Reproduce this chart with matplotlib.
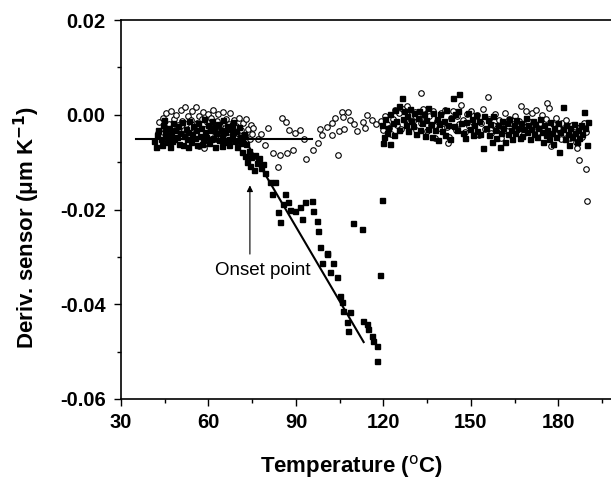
import matplotlib
matplotlib.use("Agg")
import matplotlib.pyplot as plt
from matplotlib.ticker import MultipleLocator, FormatStrFormatter

plt.rcParams['font.family'] = ['Liberation Sans', 'DejaVu Sans']
plt.rcParams['axes.unicode_minus'] = False

# filled squares: (temperature degC, derivative um/K)
sq_pts = [
    (41.3, -0.0055), (41.9, -0.0068), (42.4, -0.0042), (42.8, -0.0031), (43.6, -0.0050), (44.1, -0.0064),
    (44.3, -0.0022), (45.0, -0.0045), (45.2, -0.0035), (45.9, -0.0058), (46.3, -0.0027), (46.8, -0.0067),
    (47.1, -0.0040), (47.7, -0.0018), (48.2, -0.0052), (48.4, -0.0033), (49.1, -0.0046), (49.6, -0.0024),
    (50.0, -0.0061), (50.3, -0.0038), (50.9, -0.0015), (51.2, -0.0063), (51.5, -0.0044), (52.2, -0.0029),
    (52.6, -0.0050), (53.0, -0.0036), (53.4, -0.0012), (53.9, -0.0057), (54.3, -0.0041), (54.6, -0.0023),
    (55.3, -0.0049), (55.8, -0.0032), (56.1, -0.0064), (56.4, -0.0017), (57.0, -0.0044), (57.4, -0.0028),
    (58.0, -0.0054), (58.3, -0.0008), (58.8, -0.0036), (59.3, -0.0047), (59.7, -0.0021), (60.2, -0.0060),
    (60.6, -0.0033), (61.1, -0.0014), (61.4, -0.0048), (62.0, -0.0026), (62.3, -0.0067), (62.7, -0.0039),
    (63.3, -0.0019), (63.6, -0.0053), (64.2, -0.0031), (64.5, -0.0045), (65.0, -0.0011), (65.4, -0.0058),
    (65.8, -0.0037), (66.3, -0.0024), (66.9, -0.0050), (67.2, -0.0063), (67.6, -0.0030), (68.1, -0.0043),
    (68.5, -0.0016), (69.0, -0.0055), (69.4, -0.0035), (69.9, -0.0068), (70.3, -0.0026), (70.7, -0.0047),
    (71.2, -0.0059), (71.6, -0.0079), (72.1, -0.0040), (72.4, -0.0088), (72.9, -0.0062), (73.3, -0.0100),
    (73.8, -0.0076), (74.3, -0.0108), (74.7, -0.0090), (75.5, -0.0117), (76.0, -0.0084), (76.6, -0.0101),
    (77.3, -0.0092), (78.0, -0.0112), (78.6, -0.0104), (44.8, -0.0011), (47.4, -0.0056), (52.9, -0.0068),
    (57.8, -0.0061), (60.9, -0.0052), (64.8, -0.0066), (67.9, -0.0021),
    # descending part
    (79.3, -0.0122), (81.0, -0.0141), (82.7, -0.0141), (81.7, -0.0168), (86.2, -0.0168),
    (85.5, -0.0189), (87.2, -0.0185), (83.8, -0.0206), (84.5, -0.0227), (87.9, -0.0200),
    (89.6, -0.0204), (91.3, -0.0194), (93.0, -0.0185), (95.4, -0.0183), (95.8, -0.0204),
    (92.0, -0.0221), (97.1, -0.0225), (97.5, -0.0246), (98.2, -0.0280), (100.5, -0.0291),
    (100.5, -0.0295), (98.8, -0.0312), (102.6, -0.0312), (101.6, -0.0333), (104.0, -0.0343),
    (105.0, -0.0383), (105.7, -0.0396), (106.0, -0.0415), (108.4, -0.0417), (107.4, -0.0438),
    (107.7, -0.0457), (112.9, -0.0436), (114.2, -0.0442), (114.6, -0.0453), (116.0, -0.0467),
    (116.3, -0.0478), (117.7, -0.0488), (117.7, -0.0520), (118.7, -0.0339), (119.4, -0.0179),
    (109.5, -0.0229), (112.5, -0.0242),
    # high temperature band
    (119.5, -0.0021), (119.7, -0.0059), (120.2, -0.0047), (120.6, -0.0008), (121.3, -0.0039), (121.6, -0.0027),
    (122.1, -0.0061), (122.4, 0.0002), (123.2, -0.0018), (123.6, -0.0043), (124.1, 0.0011), (124.4, -0.0012),
    (125.2, -0.0031), (125.4, 0.0019), (126.2, 0.0036), (126.7, -0.0009), (127.1, 0.0008), (127.7, -0.0022),
    (128.1, -0.0002), (128.4, -0.0034), (129.2, 0.0012), (129.6, -0.0014), (130.1, -0.0024), (130.4, 0.0003),
    (131.2, -0.0041), (131.7, -0.0006), (132.1, 0.0009), (132.6, -0.0033), (133.3, -0.0017), (133.8, 0.0001),
    (134.1, -0.0044), (134.7, -0.0011), (135.2, -0.0029), (135.4, 0.0014), (136.2, -0.0020), (136.6, -0.0046),
    (137.1, 0.0004), (137.8, -0.0032), (138.3, -0.0008), (138.6, -0.0053), (139.2, -0.0019), (139.4, 0.0002),
    (140.2, -0.0035), (140.7, -0.0012), (141.1, -0.0043), (141.3, 0.0010), (142.2, -0.0021), (142.7, -0.0051),
    (143.1, -0.0007), (143.7, 0.0036), (144.2, -0.0023), (144.4, 0.0001), (145.2, -0.0031), (145.6, 0.0009),
    (146.0, 0.0044), (146.7, -0.0018), (147.1, -0.0038), (147.8, -0.0048), (148.4, -0.0016), (149.1, 0.0003),
    (149.7, -0.0029), (150.2, -0.0009), (150.6, -0.0042), (151.2, -0.0021), (151.6, 0.0000), (152.1, -0.0034),
    (152.7, -0.0013), (153.2, -0.0040), (154.0, -0.0069), (154.6, -0.0003), (155.1, -0.0027), (155.7, -0.0011),
    (156.2, -0.0043), (156.6, -0.0019), (157.2, -0.0058), (157.7, -0.0002), (158.1, -0.0031), (158.7, -0.0049),
    (159.2, -0.0022), (159.8, -0.0067), (160.2, -0.0038), (160.6, -0.0012), (161.1, -0.0028), (161.7, -0.0057),
    (162.2, -0.0017), (162.6, -0.0041), (163.1, -0.0008), (163.7, -0.0033), (164.2, -0.0050), (164.7, -0.0021),
    (165.2, -0.0039), (165.6, -0.0010), (166.1, -0.0027), (166.7, -0.0048), (167.2, -0.0018), (167.6, -0.0044),
    (168.2, -0.0030), (168.7, -0.0006), (169.1, -0.0037), (169.6, -0.0022), (170.2, -0.0052), (170.6, -0.0029),
    (171.2, -0.0012), (171.7, -0.0041), (172.1, -0.0019), (172.7, -0.0047), (173.1, -0.0028), (173.6, -0.0009),
    (174.2, -0.0036), (174.6, -0.0058), (175.1, -0.0021), (175.7, -0.0043), (176.2, -0.0031), (176.6, -0.0052),
    (177.1, -0.0016), (177.7, -0.0039), (178.2, -0.0061), (178.6, -0.0027), (179.1, -0.0047), (179.7, -0.0018),
    (180.3, -0.0078), (180.6, -0.0037), (181.4, 0.0017), (181.7, -0.0029), (182.1, -0.0051), (182.6, -0.0022),
    (183.2, -0.0040), (183.6, -0.0063), (184.1, -0.0028), (184.7, -0.0046), (185.2, -0.0019), (185.6, -0.0038),
    (186.2, -0.0057), (186.6, -0.0032), (187.1, -0.0049), (187.7, -0.0021), (188.2, -0.0041), (188.9, 0.0006),
    (189.2, -0.0027), (189.9, -0.0063), (190.0, -0.0016),
]

# open circles
ci_pts = [
    (42.7, -0.0038), (43.2, -0.0015), (43.8, -0.0047), (44.4, -0.0006), (44.9, -0.0030), (45.5, 0.0004),
    (46.0, -0.0041), (46.6, -0.0019), (47.0, 0.0009), (47.5, -0.0028), (48.1, -0.0009), (48.6, -0.0049),
    (49.0, -0.0001), (49.4, -0.0022), (50.1, -0.0037), (50.5, 0.0011), (51.0, -0.0013), (51.6, -0.0031),
    (52.0, 0.0017), (52.4, -0.0020), (53.1, -0.0003), (53.6, -0.0042), (54.0, -0.0010), (54.5, 0.0008),
    (55.1, -0.0027), (55.7, 0.0017), (56.0, -0.0018), (56.6, -0.0002), (56.9, -0.0065), (57.3, -0.0039),
    (57.7, -0.0008), (58.2, 0.0006), (58.5, -0.0070), (58.9, -0.0029), (59.2, -0.0057), (59.6, -0.0016),
    (60.0, 0.0001), (60.5, -0.0041), (61.0, -0.0007), (61.6, 0.0010), (62.1, -0.0030), (62.5, -0.0051),
    (63.0, -0.0012), (63.4, 0.0002), (64.0, -0.0023), (64.4, -0.0038), (65.1, 0.0007), (65.5, -0.0027),
    (66.0, -0.0009), (66.6, -0.0046), (67.1, -0.0020), (67.4, 0.0003), (68.0, -0.0033), (68.7, -0.0011),
    (69.1, -0.0049), (69.5, -0.0024), (70.1, -0.0039), (70.6, -0.0006), (71.0, -0.0031), (71.4, -0.0058),
    (72.0, -0.0017), (72.6, -0.0042), (73.0, -0.0008), (73.5, -0.0029), (74.1, -0.0052), (74.5, -0.0021),
    (75.0, -0.0040),
    # dip region
    (75.2, -0.0027), (77, -0.005), (78, -0.004), (79.3, -0.0063), (80.3, -0.0027), (82, -0.008),
    (83.8, -0.011), (84.4, -0.0085), (85.1, -0.0006), (86.5, -0.0015), (87.5, -0.0033), (86.8, -0.008),
    (88.9, -0.0075), (89.6, -0.0038), (91.3, -0.0033), (92.7, -0.0050), (93.4, -0.0093), (95.8, -0.0074),
    (97.5, -0.0059), (98.8, -0.0042), (98.2, -0.0029), (100.5, -0.0025), (102.2, -0.0042), (104.3, -0.0084),
    (104.6, -0.0035), (106.3, -0.0029), (102.2, -0.0017), (103.3, -0.0006), (105.7, 0.0006), (107.7, 0.0006),
    (108.4, -0.0011), (106, -0.0004), (112.9, -0.0015), (114.2, 0.0), (113.6, -0.0027), (110, -0.002),
    (111, -0.0035), (116, -0.001), (117.5, -0.002),
    # high temperature band
    (119.0, -0.0012), (119.8, -0.0031), (120.5, -0.0002), (121.2, -0.0019), (122.0, -0.0027), (122.7, -0.0041),
    (123.3, -0.0008), (124.0, 0.0010), (124.7, -0.0022), (125.3, 0.0003), (126.0, -0.0029), (126.7, 0.0012),
    (127.3, -0.0011), (128.0, 0.0018), (128.7, -0.0024), (129.3, -0.0001), (130.0, -0.0013), (130.7, 0.0007),
    (131.3, -0.0032), (132.0, 0.0002), (132.7, -0.0018), (133.0, 0.0046), (133.5, 0.0013), (134.2, -0.0009),
    (135.0, -0.0034), (135.7, -0.0003), (136.3, -0.0021), (137.0, 0.0009), (137.5, -0.0048), (138.2, -0.0014),
    (139.0, -0.0028), (139.7, 0.0004), (140.3, -0.0017), (141.0, 0.0011), (141.7, -0.0026), (142.0, -0.0059),
    (142.5, -0.0046), (143.2, -0.0006), (144.0, 0.0008), (144.7, -0.0031), (145.3, -0.0002), (146.0, -0.0019),
    (146.7, 0.0021), (147.3, -0.0011), (148.0, -0.0036), (148.7, 0.0001), (149.3, -0.0023), (150.0, 0.0009),
    (150.7, -0.0033), (151.3, -0.0012), (152.0, -0.0001), (152.7, -0.0043), (153.3, -0.0018), (154.0, 0.0012),
    (154.7, -0.0029), (155.7, 0.0038), (156.3, -0.0008), (157.0, -0.0039), (157.7, -0.0021), (158.3, 0.0002),
    (159.0, -0.0027), (159.7, -0.0011), (160.3, -0.0048), (161.0, -0.0016), (161.7, 0.0004), (162.3, -0.0034),
    (163.0, -0.0009), (163.7, -0.0042), (164.3, -0.0019), (165.0, -0.0002), (165.7, -0.0031), (166.3, -0.0012),
    (167.0, 0.0019), (167.7, -0.0023), (168.3, -0.0038), (169.0, 0.0008), (169.7, -0.0014), (170.3, -0.0029),
    (171.0, 0.0003), (171.7, -0.0024), (172.3, 0.0011), (173.0, -0.0037), (173.7, -0.0017), (174.3, -0.0001),
    (175.0, -0.0032), (175.7, -0.0008), (176.2, 0.0025), (176.8, 0.0015), (177.6, -0.0065), (178.0, -0.0019),
    (178.7, -0.0041), (179.3, -0.0006), (180.0, -0.0028), (180.7, -0.0052), (181.3, -0.0017), (182.0, -0.0039),
    (182.7, -0.0011), (183.3, -0.0033), (184.0, -0.0049), (184.7, -0.0022), (185.3, -0.0037), (186.0, -0.0058),
    (186.5, -0.0069), (187.0, -0.0095), (187.5, -0.0026), (188.0, -0.0047), (188.7, -0.0018), (189.3, -0.0036),
    (189.6, -0.0114), (189.9, -0.0181),
]

sq_temp, sq_deriv = zip(*sq_pts)
ci_temp, ci_deriv = zip(*ci_pts)

# fitted lines
base_temp = [35, 95.5]
base_deriv = [-0.0050, -0.0050]
slope_temp = [72.5, 113.2]
slope_deriv = [-0.0053, -0.0480]

fig = plt.figure(figsize=(6.11, 4.80), dpi=100)
ax = fig.add_axes([0.198, 0.169, 0.802, 0.789])

ax.plot(ci_temp, ci_deriv, 'o', mfc='white', mec='black', ms=4, mew=0.8, ls='none')
ax.plot(sq_temp, sq_deriv, 's', color='black', ms=3.6, ls='none')
ax.plot(base_temp, base_deriv, 'k-', lw=1.5)
ax.plot(slope_temp, slope_deriv, 'k-', lw=1.5)

ax.annotate("", xy=(74.2, -0.0143), xytext=(74.2, -0.030),
            arrowprops=dict(arrowstyle='-|>', color='black', lw=0.8, mutation_scale=9))
ax.text(78.6, -0.0328, "Onset point", ha='center', va='center', fontsize=13.5)

ax.set_xlim(30, 198)
ax.set_ylim(-0.06, 0.02)
ax.xaxis.set_major_locator(MultipleLocator(30))
ax.xaxis.set_minor_locator(MultipleLocator(15))
ax.yaxis.set_major_locator(MultipleLocator(0.02))
ax.yaxis.set_minor_locator(MultipleLocator(0.01))
ax.yaxis.set_major_formatter(FormatStrFormatter('%.2f'))
ax.tick_params(which='major', direction='out', length=5, width=1, labelsize=14.5)
ax.tick_params(axis='x', which='major', pad=5)
ax.tick_params(axis='y', which='major', pad=6)
ax.tick_params(which='minor', direction='out', length=3, width=1)
for lab in ax.get_xticklabels() + ax.get_yticklabels():
    lab.set_fontweight('bold')
ax.spines['right'].set_visible(False)
for s in ('left', 'bottom', 'top'):
    ax.spines[s].set_linewidth(1.2)

ax.set_xlabel("Temperature ($^{\\mathrm{o}}$C)", fontsize=16, fontweight='bold', va='center')
ax.set_ylabel("Deriv. sensor (\u03bcm K$^{\\mathbf{-1}}$)", fontsize=16, fontweight='bold', va='center')
ax.xaxis.set_label_coords(0.471, -0.179)
ax.yaxis.set_label_coords(-0.192, 0.454)

fig.savefig("out.png", dpi=100)
